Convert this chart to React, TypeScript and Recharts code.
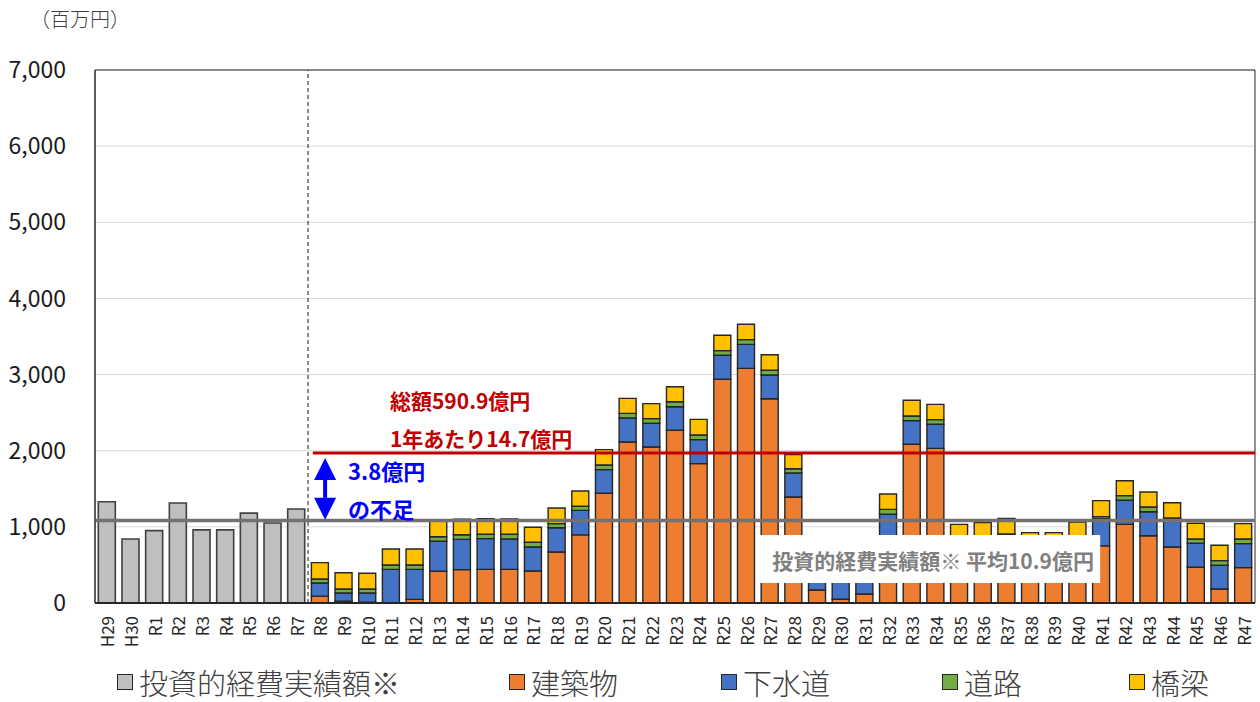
import React from 'react';
import {
  BarChart,
  Bar,
  XAxis,
  YAxis,
  CartesianGrid,
  ReferenceLine,
  ReferenceArea,
  ReferenceDot,
  Legend,
} from 'recharts';

const FONT = "'Noto Sans CJK JP', 'Noto Sans', sans-serif";

// 年度
const categories = [
  'H29', 'H30', 'R1', 'R2', 'R3', 'R4', 'R5', 'R6', 'R7',
  'R8', 'R9', 'R10', 'R11', 'R12', 'R13', 'R14', 'R15', 'R16', 'R17',
  'R18', 'R19', 'R20', 'R21', 'R22', 'R23', 'R24', 'R25', 'R26', 'R27',
  'R28', 'R29', 'R30', 'R31', 'R32', 'R33', 'R34', 'R35', 'R36', 'R37',
  'R38', 'R39', 'R40', 'R41', 'R42', 'R43', 'R44', 'R45', 'R46', 'R47',
];

// 投資的経費実績額 (H29-R7)
const actual = [1330, 840, 950, 1313, 960, 960, 1180, 1050, 1235];

// 更新費用 R8-R47
const building = [
  90, 22, 10, null, 48, 416, 438, 442, 442, 420,
  670, 895, 1441, 2115, 2049, 2268, 1830, 2938, 3082, 2683,
  1392, 171, 50, 118, 750, 2084, 2031, 830, 850, 906,
  870, 870, 860, 750, 1033, 884, 735, 469, 184, 464,
];
const sewer = [
  173, 109, 121, 442, 394, 394, 398, 403, 398, 315,
  319, 322, 310, 315, 311, 310, 315, 315, 315, 312,
  315, 380, 420, 420, 415, 311, 316, null, null, null,
  null, null, null, 358, 316, 315, 372, 315, 311, 316,
];
const road = [
  52, 53, 53, 57, 57, 61, 61, 57, 62, 62,
  53, 53, 61, 61, 61, 66, 61, 61, 62, 61,
  57, 50, 50, 50, 65, 61, 61, null, null, null,
  null, null, null, 26, 61, 62, 10, 57, 61, 61,
];
const bridge = [
  215, 214, 206, 210, 210, 209, 203, 206, 203, 197,
  206, 201, 202, 197, 197, 197, 206, 202, 201, 205,
  184, 150, 160, 160, 202, 206, 201, 203, 205, 206,
  54, 54, 204, 210, 196, 197, 200, 206, 202, 201,
];

const yTicks = [0, 1000, 2000, 3000, 4000, 5000, 6000, 7000];
const averageActual = 1085;
const requiredPerYear = 1970;

const data = categories.map((name, i) =>
  i < actual.length
    ? { name, pos: i + 0.5, actual: actual[i] }
    : {
        name,
        pos: i + 0.5,
        building: building[i - actual.length],
        sewer: sewer[i - actual.length],
        road: road[i - actual.length],
        bridge: bridge[i - actual.length],
      }
);

const legendItems = [
  { label: '投資的経費実績額※', color: '#BFBFBF', width: 392 },
  { label: '建築物', color: '#ED7D31', width: 212 },
  { label: '下水道', color: '#4472C4', width: 221 },
  { label: '道路', color: '#70AD47', width: 187 },
  { label: '橋梁', color: '#FFC000', width: 120 },
];

const XTick = ({ x, y, payload }: any) => (
  <text
    transform={`translate(${x},${y + 5}) rotate(-90)`}
    textAnchor="end"
    dominantBaseline="central"
    fontSize={17}
    fill="#262626"
    fontFamily={FONT}
  >
    {payload.value}
  </text>
);

const LegendContent = () => (
  <div style={{ display: 'flex', paddingLeft: 117, fontFamily: FONT, fontSize: 29, fontWeight: 300, color: '#404040', alignItems: 'center', lineHeight: '34px', marginTop: 2 }}>
    {legendItems.map((it) => (
      <div key={it.label} style={{ width: it.width, display: 'flex', alignItems: 'center' }}>
        <span style={{ width: 14, height: 14, background: it.color, border: '1px solid #262626', marginRight: 6, display: 'inline-block' }} />
        <span>{it.label}</span>
      </div>
    ))}
  </div>
);

const textShape = (label: string, color: string, size: number) => (p: any) => (
  <text x={p.cx} y={p.cy} dominantBaseline="central" fontSize={size} fontWeight="bold" fill={color} fontFamily={FONT}>
    {label}
  </text>
);

const arrowShape = (p: any) => {
  const { x1, y1, y2 } = p;
  const hw = 11;
  const hh = 22;
  return (
    <g>
      <line x1={x1} y1={y1 + hh} x2={x1} y2={y2 - hh} stroke="#0000FF" strokeWidth={4} />
      <polygon points={`${x1},${y1} ${x1 - hw},${y1 + hh} ${x1 + hw},${y1 + hh}`} fill="#0000FF" />
      <polygon points={`${x1},${y2} ${x1 - hw},${y2 - hh} ${x1 + hw},${y2 - hh}`} fill="#0000FF" />
    </g>
  );
};

// white label box drawn from a segment's two corners
const labelBoxShape = (p: any) => {
  const { x1, y1, x2, y2 } = p;
  return (
    <g>
      <rect x={x1} y={y1} width={x2 - x1} height={y2 - y1} fill="#FFFFFF" />
      <text
        x={x1 + 15}
        y={(y1 + y2) / 2 + 1}
        dominantBaseline="central"
        fontSize={21}
        fontWeight="bold"
        fill="#808080"
        fontFamily={FONT}
      >
        投資的経費実績額※ 平均10.9億円
      </text>
    </g>
  );
};

const App = () => (
  <div style={{ position: 'absolute', left: 0, top: 0, width: 1260, height: 702, background: '#fff' }}>
    <div style={{ position: 'absolute', left: 30, top: 4, fontFamily: FONT, fontSize: 20, fontWeight: 300, color: '#404040' }}>
      （百万円）
    </div>
    <BarChart
      width={1260}
      height={702}
      data={data}
      margin={{ top: 70, right: 5, left: 0, bottom: 0 }}
      barCategoryGap="14%"
    >
      <CartesianGrid vertical={false} stroke="#D9D9D9" />
      <XAxis
        xAxisId="cat"
        dataKey="name"
        interval={0}
        tick={<XTick />}
        tickLine={false}
        height={60}
        axisLine={{ stroke: '#262626', strokeWidth: 2 }}
      />
      <XAxis xAxisId="num" dataKey="pos" type="number" domain={[0, 49]} hide allowDataOverflow />
      <YAxis
        domain={[0, 7000]}
        ticks={yTicks}
        tickFormatter={(v: number) => v.toLocaleString('en-US')}
        tick={{ fontSize: 23, fill: '#1a1a1a', fontFamily: FONT }}
        tickLine={false}
        tickSize={0}
        tickMargin={29}
        width={95}
        axisLine={{ stroke: '#262626' }}
      />
      <Legend verticalAlign="bottom" height={39} content={<LegendContent />} wrapperStyle={{ left: 0, width: 1260 }} />
      <Bar xAxisId="cat" dataKey="actual" stackId="a" fill="#BFBFBF" stroke="#404040" strokeWidth={1.6} isAnimationActive={false} />
      <Bar xAxisId="cat" dataKey="building" stackId="a" fill="#ED7D31" stroke="#262626" strokeWidth={1.4} isAnimationActive={false} />
      <Bar xAxisId="cat" dataKey="sewer" stackId="a" fill="#4472C4" stroke="#262626" strokeWidth={1.4} isAnimationActive={false} />
      <Bar xAxisId="cat" dataKey="road" stackId="a" fill="#70AD47" stroke="#262626" strokeWidth={1.4} isAnimationActive={false} />
      <Bar xAxisId="cat" dataKey="bridge" stackId="a" fill="#FFC000" stroke="#262626" strokeWidth={1.4} isAnimationActive={false} />

      <ReferenceArea xAxisId="num" y1={0} y2={7000} fill="none" stroke="#262626" strokeWidth={1} ifOverflow="visible" />
      <ReferenceLine xAxisId="num" x={9} stroke="#1a1a1a" strokeDasharray="4 3" strokeWidth={1} />
      <ReferenceLine xAxisId="num" y={averageActual} stroke="#767171" strokeWidth={3.5} />
      <ReferenceLine
        xAxisId="num"
        segment={[{ x: 9.2, y: requiredPerYear }, { x: 49, y: requiredPerYear }]}
        stroke="#C00000"
        strokeWidth={3}
        ifOverflow="visible"
      />
      <ReferenceLine
        xAxisId="num"
        segment={[{ x: 9.72, y: 1905 }, { x: 9.72, y: 1092 }]}
        shape={arrowShape}
        ifOverflow="visible"
      />
      <ReferenceDot xAxisId="num" x={12.46} y={2666} r={0} shape={textShape('総額590.9億円', '#C00000', 21)} ifOverflow="visible" />
      <ReferenceDot xAxisId="num" x={12.46} y={2167} r={0} shape={textShape('1年あたり14.7億円', '#C00000', 21)} ifOverflow="visible" />
      <ReferenceDot xAxisId="num" x={10.69} y={1747} r={0} shape={textShape('3.8億円', '#0000FF', 22)} ifOverflow="visible" />
      <ReferenceDot xAxisId="num" x={10.69} y={1248} r={0} shape={textShape('の不足', '#0000FF', 22)} ifOverflow="visible" />
      <ReferenceLine
        xAxisId="num"
        segment={[{ x: 27.97, y: 893 }, { x: 42.46, y: 263 }]}
        shape={labelBoxShape}
        ifOverflow="visible"
      />
    </BarChart>
  </div>
);

export default App;
